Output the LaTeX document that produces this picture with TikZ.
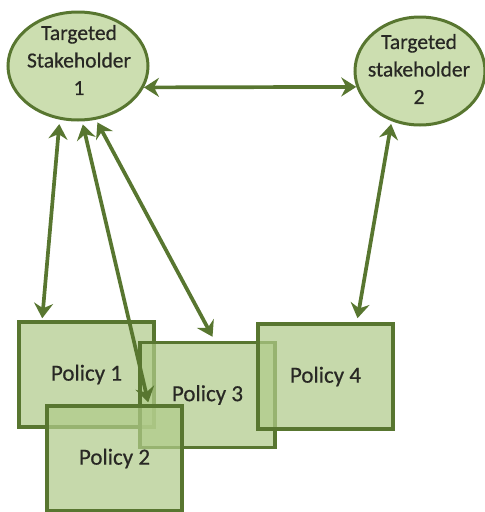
\documentclass[tikz,border=0pt]{standalone}
\usepackage{fontspec}
\setmainfont{Carlito}
\newfontfamily\heavycarlito{Carlito}[FakeBold=0.6]
\usetikzlibrary{arrows.meta,shapes.geometric}
\definecolor{edgegreen}{RGB}{88,118,48}
\definecolor{ellfill}{RGB}{204,222,176}
\definecolor{boxfill}{RGB}{176,203,138}
\definecolor{txt}{RGB}{40,40,36}
\tikzset{
  stake/.style={ellipse, draw=edgegreen, line width=3pt, fill=ellfill, inner sep=0pt},
  staketext/.style={align=center, font=\heavycarlito\fontsize{21.5}{27.5}\selectfont, text=txt},
  policy/.style={rectangle, draw=edgegreen, line width=3.5pt, fill=boxfill, fill opacity=0.72,
    text opacity=1, minimum width=135pt, minimum height=105pt, font=\heavycarlito\fontsize{23}{26}\selectfont, text=txt},
  link/.style={draw=edgegreen, line width=3.7pt, {Stealth[length=15pt,width=19pt,inset=5pt]}-{Stealth[length=15pt,width=19pt,inset=5pt]}}
}
\begin{document}
\begin{tikzpicture}[x=1pt,y=-1pt]
\useasboundingbox (0,0) rectangle (485,512);
\node[stake, minimum width=140pt, minimum height=108pt] (e1) at (78,66) {};
\node[staketext] (e1t) at (79,60) {Targeted\\Stakeholder\\1};
\node[stake, minimum width=130pt, minimum height=108pt] (e2) at (420,71) {};
\node[staketext] (e2t) at (419,69) {Targeted\\stakeholder\\2};
\node[policy] (p1) at (86.5,374.5) {Policy 1};
\node[policy] (p3) at (207.5,395) {};
\node[policy] (p4) at (325.5,376.5) {Policy 4};
\node[policy] (p2) at (114.5,458.5) {Policy 2};
\node[text=txt, font=\heavycarlito\fontsize{23}{26}\selectfont] (p3t) at (p3) {Policy 3};
\draw[link] (e1.-18) -- (e2.194);
\draw[link] ([shift={(-10pt,-3pt)}]e1.-99) -- ([xshift=25pt,yshift=2pt]p1.north west);
\draw[link] ([shift={(0pt,-3pt)}]e1.-85) -- ([xshift=103pt,yshift=2pt]p2.north west);
\draw[link] ([shift={(0pt,-3pt)}]e1.-70) -- ([xshift=5pt,yshift=4pt]p3.north);
\draw[link] ([yshift=-3pt]e2.-120) -- ([xshift=32pt,yshift=4pt]p4.north);
\end{tikzpicture}
\end{document}
